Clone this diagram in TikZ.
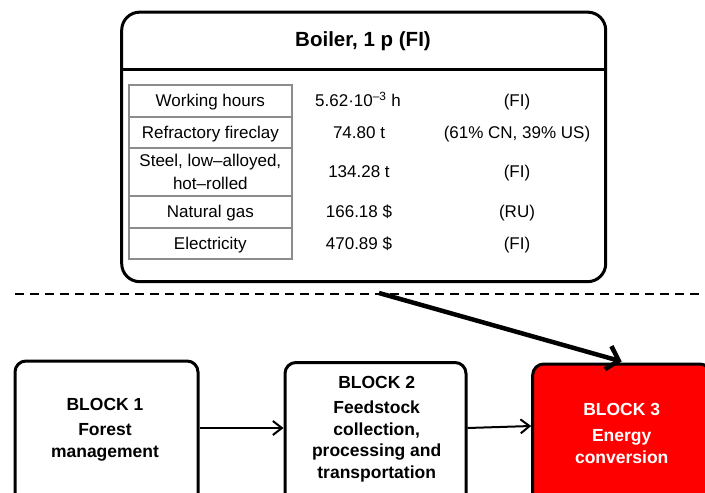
\documentclass[tikz,border=0pt]{standalone}
\usepackage{fontspec}
\setmainfont{Liberation Sans}
\usetikzlibrary{arrows.meta}
\newcommand\tabfont{\fontsize{17}{22.5}\selectfont}
\newcommand\blkfont{\fontsize{17.5}{21.5}\selectfont\bfseries}
\newcommand\ttlfont{\fontsize{20.5}{24}\selectfont\bfseries}
\begin{document}
\begin{tikzpicture}[x=1pt,y=-1pt,
  panel/.style={draw=black, line width=3pt, rounded corners=18pt},
  cell/.style={draw=black!45, line width=1.8pt, minimum width=162.7pt,
    inner sep=0pt, align=center, font=\tabfont},
  val/.style={inner sep=0pt, align=center, font=\tabfont},
  oneline/.style={text height=15.2pt, text depth=3pt},
  block/.style={draw=black, line width=3pt, rounded corners=11pt, inner sep=0pt},
  blocktext/.style={align=center, font=\blkfont, inner sep=0pt},
  flow/.style={line width=2pt, -{Straight Barb[length=9pt,width=14pt,line width=2pt]}},
  feed/.style={line width=4.5pt, -{Straight Barb[length=11pt,width=24pt,line width=4.5pt]}},
  divider/.style={line width=2.5pt, dash pattern=on 9pt off 6pt}
]
\useasboundingbox (0,0) rectangle (705,493);
\clip (0,0) rectangle (705,493);

% Boiler inventory panel
\node[panel, minimum width=484pt, minimum height=269.5pt] (boiler) at (363.7,146.9) {};
\draw[line width=3pt] (boiler.west |- 0,69.5) -- (boiler.east |- 0,69.5);
\node[font=\ttlfont, inner sep=0pt] (title) at (363,41.5) {Boiler, 1 p (FI)};

% Inventory table: flow name (boxed), amount, origin
\node[cell, oneline, minimum height=31.7pt] (c1) at (210.35,100.85) {Working hours};
\node[cell, oneline, minimum height=31pt]   (c2) at (210.35,132.2) {Refractory fireclay};
\node[cell, minimum height=48.3pt] (c3) at (210.35,171.85) {Steel, low–alloyed,\\hot–rolled};
\node[cell, oneline, minimum height=31.7pt] (c4) at (210.35,211.85) {Natural gas};
\node[cell, oneline, minimum height=31.3pt] (c5) at (210.35,243.35) {Electricity};

\node[val, oneline] (a1) at (358,100.85) {5.62·10\textsuperscript{–3} h};
\node[val, oneline] (a2) at (359,132.2) {74.80 t};
\node[val, oneline] (a3) at (359,171.85) {134.28 t};
\node[val, oneline] (a4) at (359,211.85) {166.18 \$};
\node[val, oneline] (a5) at (359,243.35) {470.89 \$};

\node[val, oneline] (o1) at (517,100.85) {(FI)};
\node[val, oneline] (o2) at (517,132.2) {(61\% CN, 39\% US)};
\node[val, oneline] (o3) at (517,171.85) {(FI)};
\node[val, oneline] (o4) at (517,211.85) {(RU)};
\node[val, oneline] (o5) at (517,243.35) {(FI)};

% System boundary
\coordinate (dl) at (15,294);
\coordinate (dr) at (712,294);
\draw[divider] (dl) -- (dr);

% Process chain
\node[block, minimum width=183pt, minimum height=150pt] (b1) at (106.5,436) {};
\node[block, minimum width=181pt, minimum height=150pt] (b2) at (375.5,437.5) {};
\node[block, fill=red, minimum width=178pt, minimum height=150pt] (b3) at (621.7,439) {};

\node[blocktext] (t1) at (105,429.5) {BLOCK 1\\[4pt]Forest\\management};
\node[blocktext] (t2) at (376.7,429.2) {BLOCK 2\\[3.5pt]Feedstock\\collection,\\processing and\\transportation};
\node[blocktext, text=white] (t3) at (621.7,433.5) {BLOCK 3\\[4.5pt]Energy\\conversion};

\draw[flow] (b1.east |- 0,428) -- (b2.west |- 0,428);
\draw[flow] (b2.east |- 0,428) -- (b3.west |- 0,426);

\coordinate (src) at (379,293);
\draw[feed] (src) -- ([yshift=1pt]b3.north);
\end{tikzpicture}
\end{document}
